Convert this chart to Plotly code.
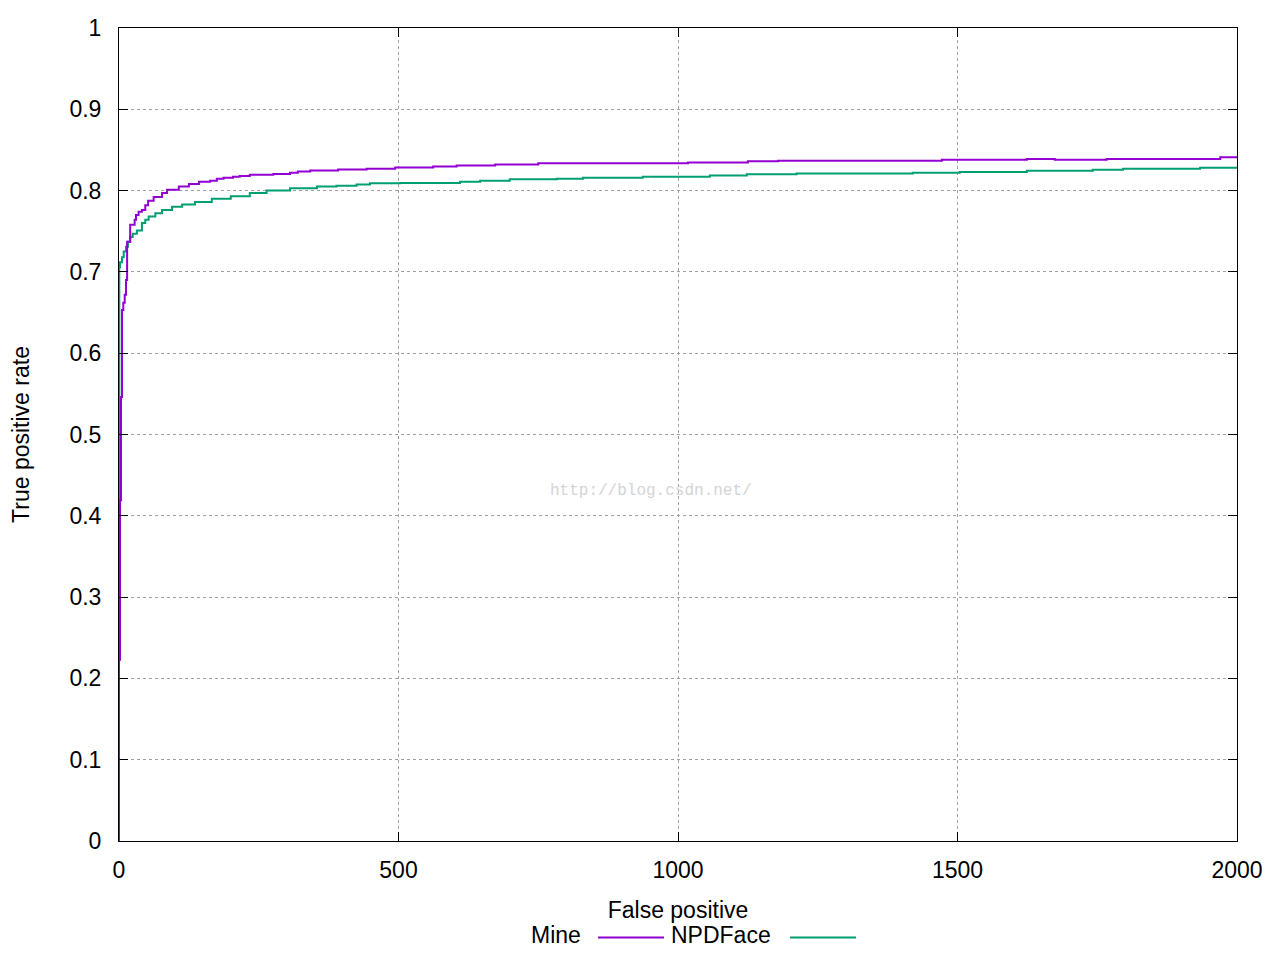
import plotly.graph_objects as go

# Mine (purple) ROC curve: false positives vs true positive rate
mine_fp = [0, 0, 1.8, 3.6, 5.4, 7.7, 10.2, 12.5, 14.5, 20, 28, 30.4, 35, 41, 47, 52, 62, 77, 86,
           107, 125, 143, 163, 175, 187, 204, 216, 234, 276, 306, 320, 342, 392, 443, 494, 562,
           604, 673, 750, 1018, 1125, 1179, 1472, 1624, 1674, 1767, 1970, 2000]
mine_tpr = [0, 0.223, 0.419, 0.546, 0.653, 0.662, 0.672, 0.69, 0.737, 0.758, 0.764, 0.770, 0.774,
            0.776, 0.782, 0.7875, 0.792, 0.797, 0.801, 0.805, 0.808, 0.811, 0.812, 0.8145, 0.8157,
            0.817, 0.818, 0.8195, 0.8205, 0.822, 0.8235, 0.8247, 0.826, 0.827, 0.8284, 0.8297,
            0.831, 0.832, 0.8335, 0.8346, 0.836, 0.8366, 0.838, 0.839, 0.838, 0.839, 0.841, 0.841]

# NPDFace (green) ROC curve
npd_fp = [0, 0, 0.5, 1.8, 5.4, 8.4, 12.5, 16, 20, 24.5, 32, 41, 47, 53, 65, 77, 95, 113, 136, 166,
          200, 234, 264, 306, 354, 389, 425, 449, 503, 610, 646, 699, 783, 830, 937, 1057, 1123,
          1212, 1420, 1504, 1624, 1742, 1796, 1934, 2000]
npd_tpr = [0, 0.542, 0.706, 0.712, 0.718, 0.725, 0.731, 0.737, 0.743, 0.747, 0.751, 0.760, 0.764,
           0.768, 0.772, 0.776, 0.780, 0.783, 0.786, 0.790, 0.793, 0.797, 0.800, 0.803, 0.805,
           0.806, 0.8075, 0.809, 0.8095, 0.811, 0.812, 0.814, 0.8145, 0.8157, 0.817, 0.8186, 0.820,
           0.821, 0.822, 0.823, 0.8243, 0.8256, 0.827, 0.828, 0.828]

x_ticks = [0, 500, 1000, 1500, 2000]
y_ticks = [0, 0.1, 0.2, 0.3, 0.4, 0.5, 0.6, 0.7, 0.8, 0.9, 1]
y_tick_labels = ["0", "0.1", "0.2", "0.3", "0.4", "0.5", "0.6", "0.7", "0.8", "0.9", "1"]

PURPLE = "#9400D3"
GREEN = "#009E73"
FONT = "Liberation Sans, Arial, sans-serif"

fig = go.Figure()
fig.add_trace(go.Scatter(x=npd_fp, y=npd_tpr, mode="lines", name="NPDFace",
                         line=dict(color=GREEN, width=2, shape="hv"), showlegend=False))
fig.add_trace(go.Scatter(x=mine_fp, y=mine_tpr, mode="lines", name="Mine",
                         line=dict(color=PURPLE, width=2, shape="hv"), showlegend=False))

axis_common = dict(showline=True, linecolor="black", linewidth=1, mirror="ticks",
                   ticks="inside", ticklen=9, tickcolor="black", tickwidth=1,
                   showgrid=True, gridcolor="#a0a0a0", griddash="dot", gridwidth=1,
                   zeroline=False, tickfont=dict(family=FONT, size=23, color="black"))

fig.update_xaxes(range=[0, 2000], tickvals=x_ticks, ticktext=[str(v) for v in x_ticks],
                 ticklabelstandoff=8,
                 title=dict(text="False positive", font=dict(family=FONT, size=23, color="black"),
                            standoff=20),
                 **axis_common)
fig.update_yaxes(range=[0, 1], tickvals=y_ticks, ticktext=y_tick_labels,
                 ticklabelstandoff=12,
                 title=dict(text="True positive rate", font=dict(family=FONT, size=23, color="black"),
                            standoff=33),
                 **axis_common)

# gnuplot-style legend below plot: text then line sample
leg_y = -0.1156
annotations = [
    dict(text="Mine", x=0.415, y=leg_y, xref="paper", yref="paper", xanchor="right",
         yanchor="middle", showarrow=False, font=dict(family=FONT, size=23, color="black")),
    dict(text="NPDFace", x=0.585, y=leg_y, xref="paper", yref="paper", xanchor="right",
         yanchor="middle", showarrow=False, font=dict(family=FONT, size=23, color="black")),
    dict(text="http://blog.csdn.net/", x=0.476, y=0.431, xref="paper", yref="paper",
         xanchor="center", yanchor="middle", showarrow=False,
         font=dict(family="Liberation Mono, DejaVu Sans Mono, monospace", size=16, color="#d4d4d4")),
]
shapes = [
    dict(type="line", xref="paper", yref="paper", x0=0.4284, x1=0.4875, y0=leg_y - 0.003,
         y1=leg_y - 0.003, line=dict(color=PURPLE, width=2)),
    dict(type="line", xref="paper", yref="paper", x0=0.6002, x1=0.6592, y0=leg_y - 0.003,
         y1=leg_y - 0.003, line=dict(color=GREEN, width=2)),
]

# page body has an 8px margin, so the figure is 8px smaller and margins shifted by 8px
fig.update_layout(width=1272, height=952, plot_bgcolor="white", paper_bgcolor="white",
                  margin=dict(l=111, r=43, t=20, b=119, autoexpand=False),
                  annotations=annotations, shapes=shapes, showlegend=False,
                  font=dict(family=FONT, color="black"))

fig.write_html("out.html")
